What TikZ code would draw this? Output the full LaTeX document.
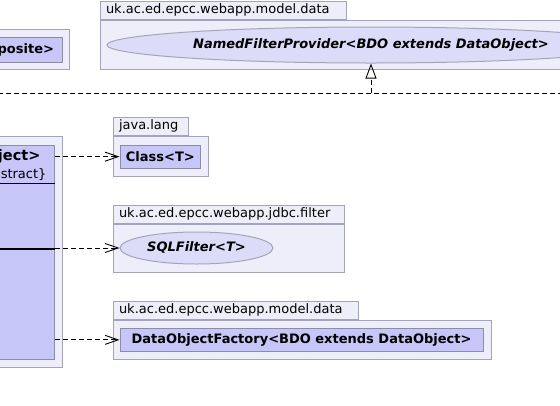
\documentclass[tikz,border=0pt]{standalone}
\usepackage{fontspec}
\setmainfont{DejaVu Sans}
\usepackage{tikz}
\usetikzlibrary{arrows.meta, positioning, shapes.geometric}
\definecolor{umlPkgFill}{HTML}{EEEEFA}
\definecolor{umlPkgLine}{HTML}{A4A4B8}
\definecolor{umlClsFill}{HTML}{C6C6F8}
\definecolor{umlClsLine}{HTML}{8C8CA8}
\definecolor{umlIfcFill}{HTML}{DCDCF8}

\begin{document}
\begin{tikzpicture}[x=1pt, y=-1pt,
  font=\fontsize{13}{15}\selectfont,
  pkg/.style={draw=umlPkgLine, fill=umlPkgFill, line width=1pt, inner sep=0pt},
  pkgtab/.style={draw=umlPkgLine, fill=umlPkgFill, line width=1pt, anchor=south west,
              inner xsep=6pt, inner ysep=0pt, minimum height=18pt, align=left},
  cls/.style={draw=umlClsLine, fill=umlClsFill, line width=1pt, inner sep=0pt,
              font=\fontsize{13}{15}\selectfont\bfseries},
  ifc/.style={ellipse, draw=umlPkgLine, fill=umlIfcFill, line width=1pt, inner sep=0pt,
              font=\fontsize{13}{15}\selectfont\bfseries\itshape},
  dep/.style={-{Straight Barb[length=13pt, width=9pt]}, dash pattern=on 5pt off 3pt, line width=0.9pt},
  real/.style={-{Triangle[open, length=15pt, width=11pt]}, dash pattern=on 5pt off 3pt, line width=0.9pt},
]
\useasboundingbox (0,0) rectangle (560,405);
\clip (0,0) rectangle (560,405);

% ---- top row ----
\node[pkg, minimum width=169pt, minimum height=40pt] (pkgComp) at (-15.5,49) {};
\node[cls, minimum height=25pt, inner xsep=8pt, text width=139pt, align=right] (clsComp) at (-15.5,49.5) {posite>};

\node[pkg, minimum width=600pt, minimum height=49pt] (pkgModelTop) at (400,44.5) {};
\node[pkgtab, text width=234pt] (tabModelTop) at (pkgModelTop.north west) {uk.ac.ed.epcc.webapp.model.data};
\node[ifc, minimum width=528pt, minimum height=36pt] (ifcNamed) at (371,45) {NamedFilterProvider<BDO extends DataObject>};

% ---- realization ----
\coordinate (joinL) at (-10,93);
\coordinate (joinR) at (570,93);
\draw[dash pattern=on 5pt off 3pt, line width=0.9pt] (joinL) -- (joinR);
\draw[real] (ifcNamed.south |- joinL) -- (ifcNamed.south);

% ---- main class ----
\node[pkg, minimum width=272pt, minimum height=230.3pt] (pkgMain) at (-74,251.85) {};
\node[cls, minimum width=244.5pt, minimum height=214pt] (clsMain) at (-67.75,252) {};
\node[anchor=east, font=\fontsize{14.5}{16}\selectfont\bfseries] (clsMainName) at (44,157) {ject>};
\node[anchor=east] (clsMainTag) at (50,175) {\{abstract\}};
\draw[line width=1pt] (clsMain.west |- 0,183.3) -- (clsMain.east |- 0,183.3);
\draw[line width=2pt] (clsMain.west |- 0,249) -- (clsMain.east |- 0,249);

% ---- java.lang ----
\node[pkg, minimum width=95pt, minimum height=40.7pt] (pkgLang) at (160.5,156.35) {};
\node[pkgtab, text width=63pt] (tabLang) at (pkgLang.north west) {java.lang};
\node[cls, minimum width=80.7pt, minimum height=23.3pt] (clsClass) at (160.35,156.65) {Class<T>};

% ---- jdbc.filter ----
\node[pkg, minimum width=231pt, minimum height=48.3pt] (pkgFilter) at (228.5,248.15) {};
\node[pkgtab, text width=219pt] (tabFilter) at (pkgFilter.north west) {uk.ac.ed.epcc.webapp.jdbc.filter};
\node[ifc, minimum width=153pt, minimum height=32pt] (ifcSQL) at (196.5,248) {SQLFilter<T>};

% ---- model.data ----
\node[pkg, minimum width=378.7pt, minimum height=39.3pt] (pkgModelBot) at (302.35,339.65) {};
\node[pkgtab, text width=233pt] (tabModelBot) at (pkgModelBot.north west) {uk.ac.ed.epcc.webapp.model.data};
\node[cls, minimum width=363pt, minimum height=23.7pt] (clsFactory) at (301.5,339.85) {DataObjectFactory<BDO extends DataObject>};

% ---- dependencies ----
\draw[dep] (clsMain.east |- clsClass) -- (clsClass.west);
\draw[dep] (clsMain.east |- ifcSQL) -- (ifcSQL.west);
\draw[dep] (clsMain.east |- clsFactory) -- (clsFactory.west);
\end{tikzpicture}
\end{document}
